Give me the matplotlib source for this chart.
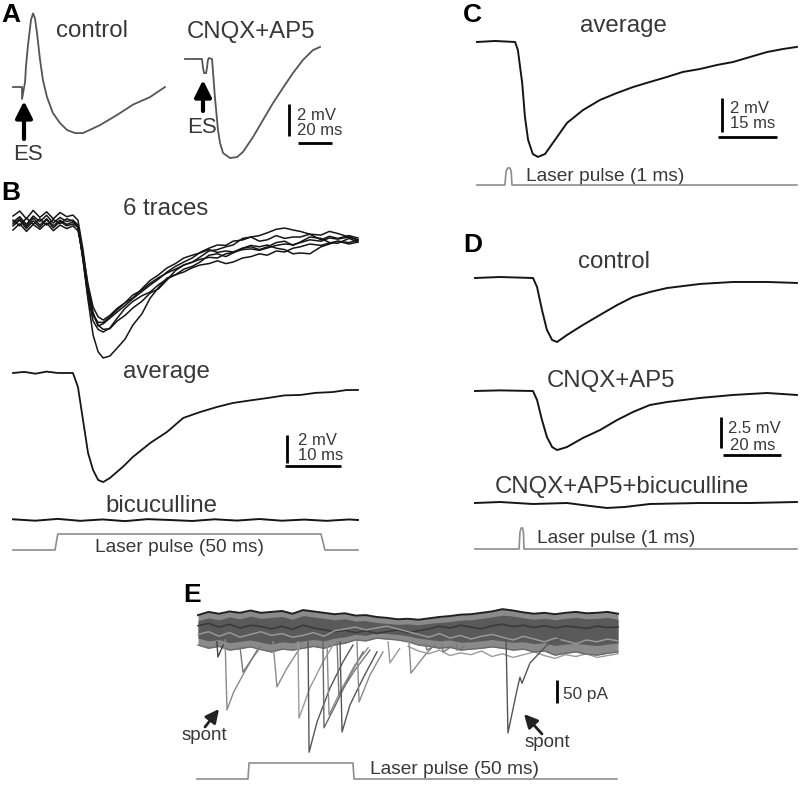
import matplotlib
matplotlib.use('Agg')
import matplotlib.pyplot as plt

W, H = 800, 788
plt.rcParams['font.family'] = ['Liberation Sans', 'DejaVu Sans']

# ---------------- data (ms, mV / pA) ----------------
# A: extracellular stim, control and CNQX+AP5
a_ctrl_t = [0, 5.3, 5.3, 7.1, 7.6, 8.8, 10.6, 11.8, 12.9, 14.1, 15.9, 17.6, 20, 23.5,
            27.6, 31.8, 36.5, 41.2, 51.2, 61.2, 70.6, 80.6, 89.4]
a_ctrl_v = [0, 0, -0.75, 0.31, 1.25, 2.6, 4.2, 4.6, 4.3, 3.4, 1.7, 0.44, -0.63, -1.63,
            -2.25, -2.69, -2.88, -2.88, -2.38, -1.75, -1.1, -0.63, 0]
a_cnqx_t = [0, 10, 10.6, 11.2, 12.4, 12.9, 13.5, 14.1, 15.9, 17.6, 19.4, 20.6, 22.4, 26.5,
            30.6, 34.1, 40, 45.9, 51.8, 57.6, 63.5, 69.4, 75.3, 79.4]
a_cnqx_v = [0, 0, -0.56, -0.88, -0.88, -0.56, -0.06, 0.06, 0, -2.38, -4.44, -5.25, -5.88, -6.19,
            -6.13, -5.81, -4.88, -3.81, -2.75, -1.81, -0.88, -0.06, 0.56, 0.75]

# B: six single traces (shared time base), their average, bicuculline
b_six_t = [0, 1.2, 2.4, 3.6, 4.8, 6, 7.2, 8.4, 9.6, 10.7, 11.6, 12.5, 13.4, 14.3, 15.2, 16.1,
           17.3, 18.6, 20, 21.4, 23, 24.5, 26, 27.5, 29, 30.5, 32, 33.4, 35, 36.5, 38, 39.3, 41,
           42.5, 44, 45.4, 47, 48.5, 50, 51.3, 53, 55, 56.5, 58, 60, 61.6]
b_six_v = [
    [0.07, 0.45, -0.1, 0.5, 0.1, 0.55, 0.0, 0.4, 0.1, 0.21, -0.14, -2.64, -5.5, -8.0, -9.2, -9.64,
     -9.5, -8.93, -8.3, -7.29, -6.5, -5.36, -4.6, -3.93, -3.7, -3.3, -3.1, -2.79, -2.3, -2.2,
     -2.4, -2.14, -1.8, -1.7, -1.9, -1.71, -1.4, -1.3, -1.6, -1.36, -1.0, -1.1, -1.4, -1.45, -1.1,
     -1.36],
    [0.5, 0.85, 0.3, 0.9, 0.4, 0.8, 0.3, 0.75, 0.45, 0.57, 0.2, -1.9, -4.6, -6.4, -7.3, -7.6,
     -7.55, -7.0, -6.6, -6.07, -5.6, -5.0, -4.7, -4.07, -3.4, -3.0, -2.8, -2.43, -2.0, -1.9,
     -1.7, -1.57, -1.1, -1.0, -0.9, -0.7, -0.45, -0.36, -0.5, -0.6, -0.8, -0.86, -0.6, -0.75,
     -1.0, -1.21],
    [-0.21, 0.2, -0.4, 0.15, -0.3, 0.25, -0.35, 0.1, -0.2, -0.07, -0.3, -2.4, -4.8, -6.5, -7.35,
     -7.2, -6.8, -6.36, -5.9, -5.4, -4.9, -4.43, -4.0, -3.5, -3.1, -2.79, -2.5, -2.1, -1.8, -1.57,
     -1.6, -1.3, -1.21, -1.0, -1.3, -1.2, -0.9, -1.1, -1.0, -1.0, -0.8, -1.2, -0.95, -1.1, -0.9,
     -1.07],
    [-0.5, -0.05, -0.6, -0.1, -0.45, 0.0, -0.55, -0.15, -0.4, -0.21, -0.55, -2.2, -4.4, -6.0,
     -6.7, -6.93, -6.6, -6.1, -5.7, -5.36, -4.7, -4.1, -3.7, -3.21, -2.9, -2.5, -2.3, -2.14, -1.9,
     -2.1, -2.0, -2.07, -1.8, -1.6, -1.7, -1.57, -1.8, -1.9, -2.2, -2.14, -2.2, -1.7, -1.5, -1.3,
     -1.5, -1.36],
    [0.21, -0.2, 0.35, -0.1, 0.3, -0.15, 0.25, -0.05, 0.3, 0.14, -0.3, -2.5, -5.2, -7.0, -7.6,
     -7.79, -7.5, -6.8, -6.1, -5.6, -5.2, -4.93, -4.4, -4.0, -3.7, -3.5, -3.2, -3.0, -2.9, -2.7,
     -2.9, -2.79, -2.5, -2.4, -2.2, -2.3, -2.0, -2.07, -1.8, -1.7, -1.5, -1.6, -1.43, -1.3, -1.4,
     -1.21],
    [-0.07, 0.3, -0.25, 0.35, -0.15, 0.3, -0.2, 0.2, -0.1, 0.07, -0.3, -2.6, -5.3, -6.6, -7.1,
     -7.1, -6.7, -6.2, -5.7, -5.14, -4.8, -4.3, -3.9, -3.57, -3.3, -3.0, -2.8, -2.6, -2.45, -2.5,
     -2.2, -2.1, -1.9, -1.85, -1.95, -1.79, -1.6, -1.5, -1.55, -1.4, -1.2, -1.3, -1.07, -1.15,
     -1.0, -1.21],
]
b_avg_t = [0, 2, 4, 6, 8, 10.7, 11.6, 12.5, 13.4, 14.3, 15.2, 16.1, 17.3, 19.6, 21.4, 24.5, 27.5,
           30.4, 33.4, 36.4, 39.3, 42.5, 45.4, 48.5, 51.3, 54, 57.1, 59.5, 61.6]
b_avg_v = [0, 0.08, -0.05, 0.1, 0.0, 0, -1.0, -3.36, -5.71, -6.93, -7.64, -7.79, -7.5, -6.71,
           -6.0, -5.0, -4.21, -3.21, -2.79, -2.43, -2.14, -1.95, -1.79, -1.6, -1.57, -1.42, -1.36,
           -1.22, -1.21]
b_bic_t = [0, 4, 8, 12, 16, 20, 24, 28, 32, 36, 40, 44, 48, 52, 56, 60, 61.6]
b_bic_v = [0.05, -0.05, 0.08, -0.06, 0.04, -0.08, 0.06, 0.0, -0.07, 0.05, -0.04, 0.07, -0.05,
           0.03, -0.06, 0.04, 0.0]
b_laser_t = [0, 7.5, 8.0, 55.0, 55.7, 61.6]
b_laser_on = [0, 0, 1, 1, 0, 0]

# C: average, 1 ms pulse
c_avg_t = [0, 4.6, 9.7, 10.4, 11.5, 12.2, 13.0, 14.2, 15.5, 17.3, 19.3, 22.9, 27, 31.3, 35.6,
           39.7, 44, 48.3, 52.4, 56.7, 61.1, 65.1, 69.5, 73.8, 77.9, 81.4]
c_avg_v = [0, 0.06, 0, -0.47, -2.41, -4.41, -5.76, -6.59, -6.76, -6.59, -5.94, -4.76, -4.0,
           -3.41, -3.0, -2.65, -2.35, -2.06, -1.76, -1.59, -1.35, -1.18, -0.88, -0.59, -0.41, -0.29]
c_laser_t = [0, 7.1, 7.4, 7.8, 8.4, 8.7, 8.9, 81.4]
c_laser_on = [0, 0, 0.8, 1, 1, 0.8, 0, 0]

# D: control, CNQX+AP5, CNQX+AP5+bicuculline
d_t = [0, 8.6, 20, 21.4, 23.1, 24.8, 26.6, 28.3, 31.7, 37.2, 43.1, 49, 54.5, 60.3, 66.2, 77.6,
       89, 100.7, 111]
d_ctrl_v = [0, 0.08, 0, -0.73, -2.58, -4.19, -5.0, -5.16, -4.6, -3.79, -2.98, -2.18, -1.53,
            -1.13, -0.81, -0.48, -0.32, -0.32, -0.4]
d_cnqx_v = [0, 0.05, 0, -0.73, -2.34, -3.71, -4.52, -4.76, -4.52, -3.79, -3.15, -2.34, -1.69,
            -1.13, -0.89, -0.56, -0.32, -0.16, -0.32]
d_bic_t = [0, 8.6, 20, 31.7, 39.7, 45.5, 51.7, 60.3, 77.6, 94.8, 111]
d_bic_v = [0, 0.08, -0.08, 0, -0.24, -0.4, -0.32, -0.08, 0, 0, 0.08]
d_laser_t = [0, 15.2, 15.5, 15.9, 16.4, 16.7, 16.9, 111]
d_laser_on = [0, 0, 0.8, 1, 1, 0.8, 0, 0]

# E: superimposed voltage-clamp sweeps (pA)
e_band_t = [0, 5, 10, 15, 20, 25, 30, 35, 40, 45, 50, 55, 60, 65, 70, 75, 80, 85, 90, 95, 100,
            105, 110, 115, 120, 125, 130, 135, 140, 145, 150, 155, 160, 165, 170, 175, 180, 185,
            190, 195, 200]
e_band_hi = [28, 35, 31, 36, 33, 38, 33, 35, 37, 31, 39, 36, 33, 30, 32, 27, 28, 24, 22, 19,
             20, 18, 21, 24, 26, 29, 30, 33, 36, 41, 38, 34, 31, 33, 30, 33, 35, 32, 33, 35, 31]
e_band_lo = [-37, -44, -40, -48, -45, -41, -47, -52, -46, -48, -44, -40, -44, -37, -33, -26, -28,
             -22, -24, -26, -30, -37, -40, -44, -42, -48, -46, -44, -41, -44, -48, -46, -52, -50,
             -59, -55, -52, -57, -59, -55, -52]
e_core_hi = [16, 22, 18, 24, 20, 26, 21, 23, 25, 19, 27, 24, 21, 18, 20, 15, 16, 12, 10, 8,
             9, 7, 10, 12, 14, 17, 18, 21, 24, 28, 26, 22, 19, 21, 18, 21, 23, 20, 21, 23, 19]
e_core_lo = [-22, -28, -25, -32, -29, -26, -31, -35, -30, -32, -28, -25, -28, -22, -19, -14, -16,
             -10, -12, -14, -17, -22, -25, -28, -26, -31, -30, -28, -25, -28, -31, -30, -34, -32,
             -38, -35, -33, -36, -38, -35, -33]
e_sweep_mid = [5, 10, 2, 8, 0, 6, 3, -2, 4, -3, 6, 0, -4, -8, -5, -10, -6, -12, -8, -4,
               -10, -6, -2, 4, 0, 6, 2, -2, 5, 8, 3, 6, 1, 5, 0, 4, 2, -1, 4, 1, 2]
e_sweep_low = [-14, -8, -18, -10, -20, -14, -8, -16, -12, -20, -16, -10, -18, -6, -2, 2, -4, 0,
               4, -2, -8, -14, -20, -12, -22, -16, -24, -18, -14, -20, -26, -18, -24, -30, -22,
               -28, -34, -26, -30, -24, -28]
e_fringe_t = [100, 105, 110, 115, 120, 125, 130, 135, 140, 145, 150, 155, 160, 165, 170, 175,
              180, 185, 190, 195, 200]
e_fringe = [-40, -50, -56, -48, -60, -54, -58, -50, -62, -56, -64, -58, -52, -60, -66, -58, -62,
            -56, -64, -60, -56]
e_events = [
    [(9, -30), (9.5, -63), (12, -37)],
    [(12.9, -26), (13.8, -178), (17, -139), (21.4, -102), (28.1, -48)],
    [(20, -40), (21.4, -96), (26, -65), (30, -40)],
    [(35.7, -30), (37.6, -128), (42.4, -87), (48.6, -43)],
    [(47.6, -30), (48.1, -196), (53.3, -130), (59.5, -74), (64.3, -37)],
    [(52.4, -30), (52.9, -270), (56.7, -204), (62.9, -130), (69, -74), (73.8, -37)],
    [(59.5, -30), (60, -217), (66.2, -161), (72.4, -102), (78.6, -52)],
    [(61.4, -30), (62.4, -189), (68.1, -135), (74.8, -80), (81, -43)],
    [(66.2, -30), (67.1, -146), (74.8, -91), (81.9, -48)],
    [(67.6, -30), (68.6, -226), (72.4, -167), (78.6, -109), (85.2, -52)],
    [(75.7, -30), (76.7, -161), (81.9, -102), (88.1, -52)],
    [(90.5, -30), (91.4, -76), (96, -45)],
    [(100.5, -30), (101.4, -98), (108.1, -59), (112, -40)],
    [(108.5, -35), (109, -48), (113, -38)],
    [(116.2, -35), (116.7, -52), (121, -40)],
    [(123, -35), (123.3, -48), (127, -40)],
    [(146.7, -26), (147.6, -228), (151.9, -135), (153.3, -107), (154.3, -120), (158.1, -76),
     (166.2, -37), (173.8, -20)],
]
e_event_grey = ['#444444', '#8a8a8a', '#777777', '#8a8a8a', '#9a9a9a', '#555555', '#666666',
                '#8a8a8a', '#777777', '#555555', '#8a8a8a', '#9a9a9a', '#8a8a8a', '#777777',
                '#777777', '#777777', '#555555']
e_laser_t = [-0.5, 23.8, 24.3, 73.8, 74.3, 199.5]
e_laser_on = [0, 0, 1, 1, 0, 0]

# ---------------- drawing ----------------
fig = plt.figure(figsize=(W / 100, H / 100), dpi=100)
bg = fig.add_axes([0, 0, 1, 1])
bg.set_xlim(0, W)
bg.set_ylim(H, 0)
bg.axis('off')

TXT = '#383838'
TRACE = '#151515'
LASER = '#8c8c8c'


def trace_axes(ox, oy, sx, sy):
    # full-figure axes whose (0, 0) sits at pixel (ox, oy), sx/sy px per unit
    ax = fig.add_axes([0, 0, 1, 1])
    ax.set_xlim(-ox / sx, (W - ox) / sx)
    ax.set_ylim((oy - H) / sy, oy / sy)
    ax.axis('off')
    return ax


def label(x, y, s, size=17.3, ha='left', **kw):
    bg.text(x, y, s, fontsize=size, ha=ha, va='baseline', color=TXT, **kw)


def panel_letter(x, y, s):
    bg.text(x, y, s, fontsize=19, fontweight='bold', ha='center', va='center', color='k')


def scalebar(ax, x, y, dy, x2, y2, dx):
    ax.plot([x, x], [y, y - dy], color='k', lw=2, solid_capstyle='butt')
    if dx:
        ax.plot([x2, x2 + dx], [y2, y2], color='k', lw=2, solid_capstyle='butt')


def arrow(x0, y0, x1, y1, lw=3, head=10, color='k'):
    bg.annotate('', xy=(x1, y1), xytext=(x0, y0),
                arrowprops=dict(arrowstyle='-|>,head_length=1.0,head_width=0.5',
                                lw=lw, color=color, mutation_scale=head,
                                shrinkA=0, shrinkB=0))


# ---- A ----
panel_letter(11, 15, 'A')
ax = trace_axes(13, 87, 1.7, 16)
ax.plot(a_ctrl_t, a_ctrl_v, color='#555555', lw=1.3)
scalebar(ax, 162.4, -1.06, 2, 167.6, -3.5, 20)
ax = trace_axes(185, 59, 1.7, 16)
ax.plot(a_cnqx_t, a_cnqx_v, color='#555555', lw=1.3)
label(56, 37, 'control')
label(187, 38, 'CNQX+AP5')
label(13, 160, 'ES', size=16)
label(187, 133, 'ES', size=16)
arrow(24, 139, 24, 101)
arrow(203, 111, 203, 80)
label(297, 120, '2 mV', size=12)
label(297, 135, '20 ms', size=12)

# ---- B ----
panel_letter(11, 193, 'B')
ax = trace_axes(13, 223, 5.6, 14)
for v in b_six_v:
    ax.plot(b_six_t, v, color=TRACE, lw=1.1)
ax = trace_axes(13, 373, 5.6, 14)
ax.plot(b_avg_t, b_avg_v, color=TRACE, lw=1.3)
scalebar(ax, 48.9, -4.43, 2, 48.6, -6.64, 10)
ax = trace_axes(13, 520, 5.6, 14)
ax.plot(b_bic_t, b_bic_v, color=TRACE, lw=1.4)
ax = trace_axes(13, 550, 5.6, 16)
ax.plot(b_laser_t, b_laser_on, color=LASER, lw=1.2)
label(123, 215, '6 traces')
label(123, 378, 'average')
label(105, 512, 'bicuculline')
label(298, 445, '2 mV', size=12)
label(298, 460, '10 ms', size=12)
label(95, 552, 'Laser pulse (50 ms)', size=13.8)

# ---- C ----
panel_letter(472, 15, 'C')
ax = trace_axes(477, 42, 3.93, 17)
ax.plot(c_avg_t, c_avg_v, color=TRACE, lw=1.4)
scalebar(ax, 62.3, -3.29, 2, 61.3, -5.59, 15)
ax = trace_axes(477, 185, 3.93, 17)
ax.plot(c_laser_t, c_laser_on, color=LASER, lw=1.2)
label(580, 32, 'average')
label(730, 113, '2 mV', size=12)
label(730, 128, '15 ms', size=12)
label(526, 181, 'Laser pulse (1 ms)', size=13.8)

# ---- D ----
panel_letter(473, 245, 'D')
ax = trace_axes(475, 278, 2.9, 12.4)
ax.plot(d_t, d_ctrl_v, color=TRACE, lw=1.4)
ax = trace_axes(475, 391, 2.9, 12.4)
ax.plot(d_t, d_cnqx_v, color=TRACE, lw=1.4)
scalebar(ax, 84.8, -2.1, 2.5, 85.5, -5.16, 20)
ax = trace_axes(475, 503, 2.9, 12.4)
ax.plot(d_bic_t, d_bic_v, color=TRACE, lw=1.4)
ax = trace_axes(475, 549, 2.9, 21)
ax.plot(d_laser_t, d_laser_on, color=LASER, lw=1.2)
label(578, 268, 'control')
label(547, 387, 'CNQX+AP5')
label(495, 493, 'CNQX+AP5+bicuculline')
label(728, 433, '2.5 mV', size=12)
label(730, 450, '20 ms', size=12)
label(537, 543, 'Laser pulse (1 ms)', size=13.8)

# ---- E ----
panel_letter(192, 595, 'E')
ax = trace_axes(198, 628, 2.1, 0.46)
ax.fill_between(e_band_t, e_band_lo, e_band_hi, color='#8a8a8a', lw=0)
ax.fill_between(e_band_t, e_core_lo, e_core_hi, color='#5a5a5a', lw=0)
ax.plot(e_fringe_t, e_fringe, color='#9a9a9a', lw=1.0)
ax.plot(e_band_t, e_sweep_mid, color='#3a3a3a', lw=1.2)
ax.plot(e_band_t, e_sweep_low, color='#9c9c9c', lw=1.0)
ax.plot(e_band_t, e_band_hi, color='#202020', lw=1.4)
ax.plot(e_band_t, e_band_lo, color='#6a6a6a', lw=1.0)
for ev, c in zip(e_events, e_event_grey):
    ax.plot([p[0] for p in ev], [p[1] for p in ev], color=c, lw=1.0)
scalebar(ax, 171, -113, 50, 171, -113, 0)
ax = trace_axes(198, 779, 2.1, 16)
ax.plot(e_laser_t, e_laser_on, color=LASER, lw=1.2)
label(563, 699, '50 pA', size=12.4)
label(182, 740, 'spont', size=13.5)
label(525, 747, 'spont', size=13.5)
label(370, 774, 'Laser pulse (50 ms)', size=13.8)
arrow(205, 727, 219, 709, lw=2, head=8, color='#222222')
arrow(542, 734, 524, 714, lw=2, head=8, color='#222222')

fig.savefig('out.png', dpi=100, facecolor='white')
